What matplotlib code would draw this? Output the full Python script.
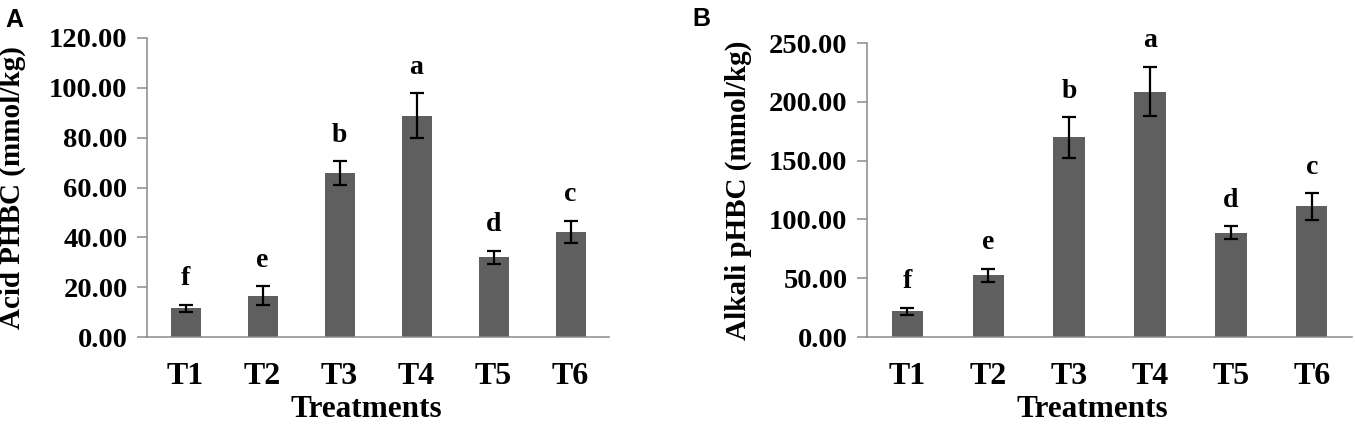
import matplotlib
matplotlib.use("Agg")
import matplotlib.pyplot as plt
import numpy as np

treatments = ["T1", "T2", "T3", "T4", "T5", "T6"]

acid_values = [11.6, 16.6, 65.9, 88.8, 32.0, 42.2]
acid_errors = [1.4, 3.8, 4.7, 9.0, 2.6, 4.5]
acid_letters = ["f", "e", "b", "a", "d", "c"]
acid_ticks = [0, 20, 40, 60, 80, 100, 120]

alkali_values = [21.8, 52.5, 169.7, 208.8, 88.6, 111.0]
alkali_errors = [3.0, 5.6, 17.3, 21.1, 5.4, 11.5]
alkali_letters = ["f", "e", "b", "a", "d", "c"]
alkali_ticks = [0, 50, 100, 150, 200, 250]

SERIF = ["Liberation Serif", "DejaVu Serif"]
SANS = ["Liberation Sans", "DejaVu Sans"]
BAR_COLOR = "#5f5f5f"
AXIS_COLOR = "#8a8a8a"

fig = plt.figure(figsize=(13.55, 4.26), dpi=100)

def panel(rect, values, errors, letters, ticks, ylabel, xlabel_x, xlabel_y, ylabel_x):
    ax = fig.add_axes(rect)
    x = np.arange(len(treatments))
    ax.bar(x, values, width=0.39, color=BAR_COLOR, zorder=2)
    ax.errorbar(x, values, yerr=errors, fmt="none", ecolor="black",
                elinewidth=1.6, capsize=4.7, capthick=1.6, zorder=3)
    for xi, v, e, lab in zip(x, values, errors, letters):
        ax.annotate(lab, xy=(xi, v + e), xytext=(0, 14), textcoords="offset points",
                    ha="center", va="baseline", fontsize=20, fontweight="bold",
                    family=SERIF)
    ax.set_xlim(-0.5, 5.5)
    ax.set_ylim(ticks[0], ticks[-1])
    ax.set_yticks(ticks)
    ax.set_yticklabels([f"{t:.2f}" for t in ticks], family=SERIF,
                       fontweight="bold", fontsize=20.5)
    ax.set_xticks(x)
    ax.set_xticklabels(treatments, family=SERIF, fontweight="bold", fontsize=23)
    ax.tick_params(axis="x", length=0, pad=18)
    ax.tick_params(axis="y", length=7, width=1.1, color=AXIS_COLOR,
                   direction="out", pad=7)
    for s in ["top", "right"]:
        ax.spines[s].set_visible(False)
    for s in ["left", "bottom"]:
        ax.spines[s].set_color(AXIS_COLOR)
        ax.spines[s].set_linewidth(1.1)
    ax.spines["left"].set_zorder(4)
    ax.set_xlabel("Treatments", family=SERIF, fontweight="bold", fontsize=22.5,
                  labelpad=0)
    ax.xaxis.set_label_coords(xlabel_x, xlabel_y)
    ax.set_ylabel(ylabel, family=SERIF, fontweight="bold", fontsize=21)
    ax.yaxis.set_label_coords(ylabel_x, 0.5)
    return ax

axA = panel([0.1085, 0.2089, 0.341, 0.7019], acid_values, acid_errors,
            acid_letters, acid_ticks, "Acid PHBC (mmol/kg)", 0.474, -0.194, -0.262)
axB = panel([0.6399, 0.2089, 0.358, 0.690], alkali_values, alkali_errors,
            alkali_letters, alkali_ticks, "Alkali pHBC (mmol/kg)", 0.464, -0.197, -0.237)

fig.text(5 / 1355, 1 - 27 / 426, "A", family=SANS, fontweight="bold",
         fontsize=18, ha="left", va="baseline")
fig.text(692 / 1355, 1 - 26 / 426, "B", family=SANS, fontweight="bold",
         fontsize=18, ha="left", va="baseline")

fig.savefig("out.png", dpi=100)
